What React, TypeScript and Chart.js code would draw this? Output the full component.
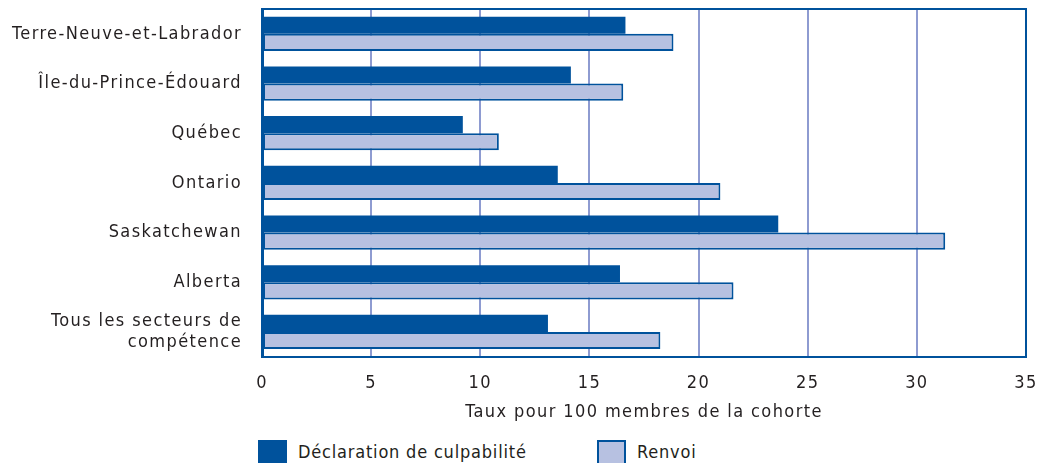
import React, { useEffect, useRef } from "react";
import { Chart, registerables } from "chart.js";

Chart.register(...registerables);

const categories: (string | string[])[] = [
  "Terre-Neuve-et-Labrador",
  "Île-du-Prince-Édouard",
  "Québec",
  "Ontario",
  "Saskatchewan",
  "Alberta",
  ["Tous les secteurs de", "compétence"],
];
const seriesNames = ["Déclaration de culpabilité", "Renvoi"];
const convictionValues = [16.65, 14.15, 9.2, 13.55, 23.65, 16.4, 13.1];
const referralValues = [18.85, 16.55, 10.85, 21.0, 31.3, 21.6, 18.25];
const xTickValues = [0, 5, 10, 15, 20, 25, 30, 35];
const xTitle = "Taux pour 100 membres de la cohorte";

const DARK = "#00529c";
const LIGHT = "#b7c1e1";
const GRID = "#8e9bd1";
const TEXT = "#231f20";
const FONT = "'DejaVu Sans Condensed', 'DejaVu Sans', sans-serif";
const LS = "1.4px";
const LEGEND_LS = "0.8px";

export default function App() {
  const ref = useRef<HTMLCanvasElement | null>(null);

  useEffect(() => {
    document.body.style.margin = "0";
    if (!ref.current) return;
    const spacing = {
      id: "spacing",
      beforeUpdate(chart: any) {
        (chart.ctx as any).letterSpacing = LS;
      },
      beforeDraw(chart: any) {
        (chart.ctx as any).letterSpacing = LS;
      },
    };
    const frame = {
      id: "frame",
      afterDatasetsDraw(chart: any) {
        const { ctx, chartArea } = chart;
        ctx.save();
        ctx.strokeStyle = DARK;
        ctx.lineWidth = 2;
        ctx.beginPath();
        ctx.moveTo(chartArea.left, chartArea.top);
        ctx.lineTo(chartArea.right, chartArea.top);
        ctx.lineTo(chartArea.right, chartArea.bottom);
        ctx.stroke();
        ctx.restore();
      },
    };
    const chart = new Chart(ref.current, {
      type: "bar",
      data: {
        labels: categories,
        datasets: [
          {
            label: seriesNames[0],
            data: convictionValues,
            backgroundColor: DARK,
            borderWidth: 0,
            categoryPercentage: 0.69,
            barPercentage: 1.0,
          },
          {
            label: seriesNames[1],
            data: referralValues,
            backgroundColor: LIGHT,
            borderColor: DARK,
            borderWidth: 2,
            borderSkipped: false,
            categoryPercentage: 0.69,
            barPercentage: 1.0,
          },
        ],
      },
      options: {
        indexAxis: "y",
        animation: false,
        responsive: false,
        maintainAspectRatio: false,
        layout: { padding: { top: 1, right: 15, left: 0, bottom: 0 } },
        plugins: {
          legend: { display: false },
          tooltip: { enabled: false },
        },
        scales: {
          x: {
            type: "linear",
            min: 0,
            max: 35,
            afterBuildTicks: (s: any) => {
              s.ticks = xTickValues.map((v) => ({ value: v }));
            },
            afterFit: (s: any) => {
              s.paddingLeft = 0;
              s.paddingRight = 0;
            },
            grid: {
              color: (c: any) => (c.tick && c.tick.value === 0 ? DARK : GRID),
              lineWidth: 2,
              drawTicks: false,
            },
            border: { color: DARK, width: 2 },
            ticks: {
              color: TEXT,
              font: { family: FONT, size: 18 },
              padding: 16,
              autoSkip: false,
              maxRotation: 0,
            },
            title: {
              display: true,
              text: xTitle,
              color: TEXT,
              font: { family: FONT, size: 18 },
              padding: { top: -9, bottom: 0 },
            },
          },
          y: {
            grid: { display: false, drawTicks: false },
            border: { color: DARK, width: 3 },
            afterFit: (s: any) => {
              s.width = 254;
              s.paddingTop = 0;
              s.paddingBottom = 0;
            },
            ticks: {
              color: TEXT,
              font: { family: FONT, size: 18 },
              padding: 20,
              autoSkip: false,
            },
          },
        },
      },
      plugins: [spacing, frame],
    } as any);
    return () => chart.destroy();
  }, []);

  const legendColors = [
    { bg: DARK, border: DARK },
    { bg: LIGHT, border: DARK },
  ];
  const legendLefts = [258, 597];

  return (
    <div style={{ position: "relative", width: 1041, height: 463, overflow: "hidden" }}>
      <canvas
        ref={ref}
        width={1033}
        height={415}
        style={{ position: "absolute", left: 8, top: 8, width: 1033, height: 415 }}
      />
      {seriesNames.map((name, i) => (
        <div
          key={name}
          style={{
            position: "absolute",
            left: legendLefts[i],
            top: 440,
            height: 23,
            display: "flex",
            alignItems: "flex-start",
            fontFamily: FONT,
            fontSize: 18,
            lineHeight: "21px",
            letterSpacing: LEGEND_LS,
            color: TEXT,
            whiteSpace: "nowrap",
          }}
        >
          <span
            style={{
              display: "inline-block",
              width: 29,
              height: 26,
              boxSizing: "border-box",
              background: legendColors[i].bg,
              border: `2px solid ${legendColors[i].border}`,
              marginRight: 11,
              flex: "none",
            }}
          />
          <span style={{ paddingTop: 1 }}>{name}</span>
        </div>
      ))}
    </div>
  );
}
